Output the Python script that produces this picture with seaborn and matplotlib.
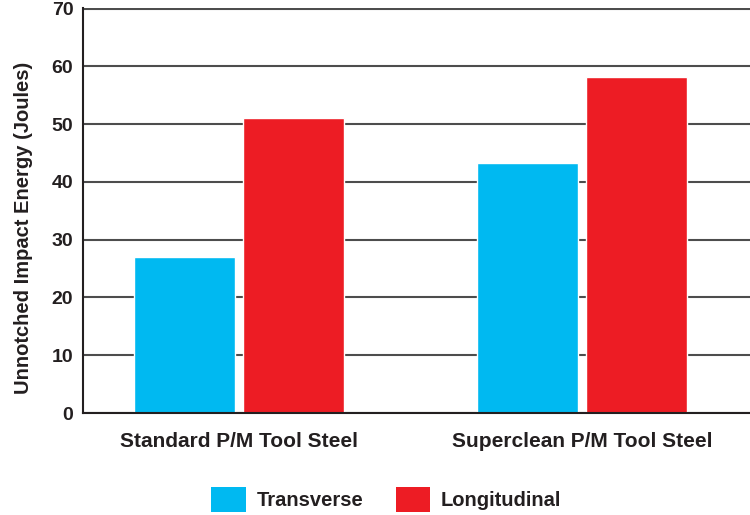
import pandas as pd
import matplotlib
matplotlib.use("Agg")
import matplotlib.pyplot as plt
import seaborn as sns
from matplotlib.patches import Patch

# data
categories = ["Standard P/M Tool Steel", "Superclean P/M Tool Steel"]
series = ["Transverse", "Longitudinal"]
transverse = [27.0, 43.2]
longitudinal = [51.0, 58.2]
y_ticks = [0, 10, 20, 30, 40, 50, 60, 70]

colors = {"Transverse": "#00b9f1", "Longitudinal": "#ed1c24"}
text_color = "#231f20"

df = pd.DataFrame({
    "steel": categories * 2,
    "direction": [series[0]] * 2 + [series[1]] * 2,
    "energy": transverse + longitudinal,
})

sns.set_style("white")
plt.rcParams["font.family"] = ["Liberation Sans", "DejaVu Sans"]
plt.rcParams["font.weight"] = "bold"

fig = plt.figure(figsize=(7.5, 5.15), dpi=100)
ax = fig.add_axes([83 / 750, 1 - 413 / 515, 667 / 750, 405 / 515])

sns.barplot(data=df, x="steel", y="energy", hue="direction", order=categories,
            hue_order=series, palette=colors, width=0.64, gap=0.08,
            saturation=1, legend=False, ax=ax)

ax.set_xlim(-0.455, 1.49)
ax.set_ylim(0, 70.1)
ax.set_yticks(y_ticks)
ax.yaxis.grid(True, color="#4d4d4d", linewidth=1.5)
ax.set_axisbelow(True)

for side in ["top", "right"]:
    ax.spines[side].set_visible(False)
for side in ["left", "bottom"]:
    ax.spines[side].set_color(text_color)
    ax.spines[side].set_linewidth(1.5)

ax.tick_params(axis="y", length=0, pad=7, labelsize=14, labelcolor=text_color)
ax.tick_params(axis="x", length=0, pad=14, labelsize=15, labelcolor=text_color)
ax.set_xlabel("")
ax.set_ylabel("Unnotched Impact Energy (Joules)", fontsize=14.5,
              fontweight="bold", color=text_color)
ax.yaxis.set_label_coords(-0.075, 0.458)

handles = [Patch(facecolor=colors[s], edgecolor="none") for s in series]
fig.legend(handles, series, loc="center", bbox_to_anchor=(0.515, 0.03),
           ncol=2, frameon=False, fontsize=14.5, handlelength=1.7,
           handleheight=1.55, handletextpad=0.55, columnspacing=1.6,
           labelcolor=text_color)

fig.savefig("out.png", dpi=100)
